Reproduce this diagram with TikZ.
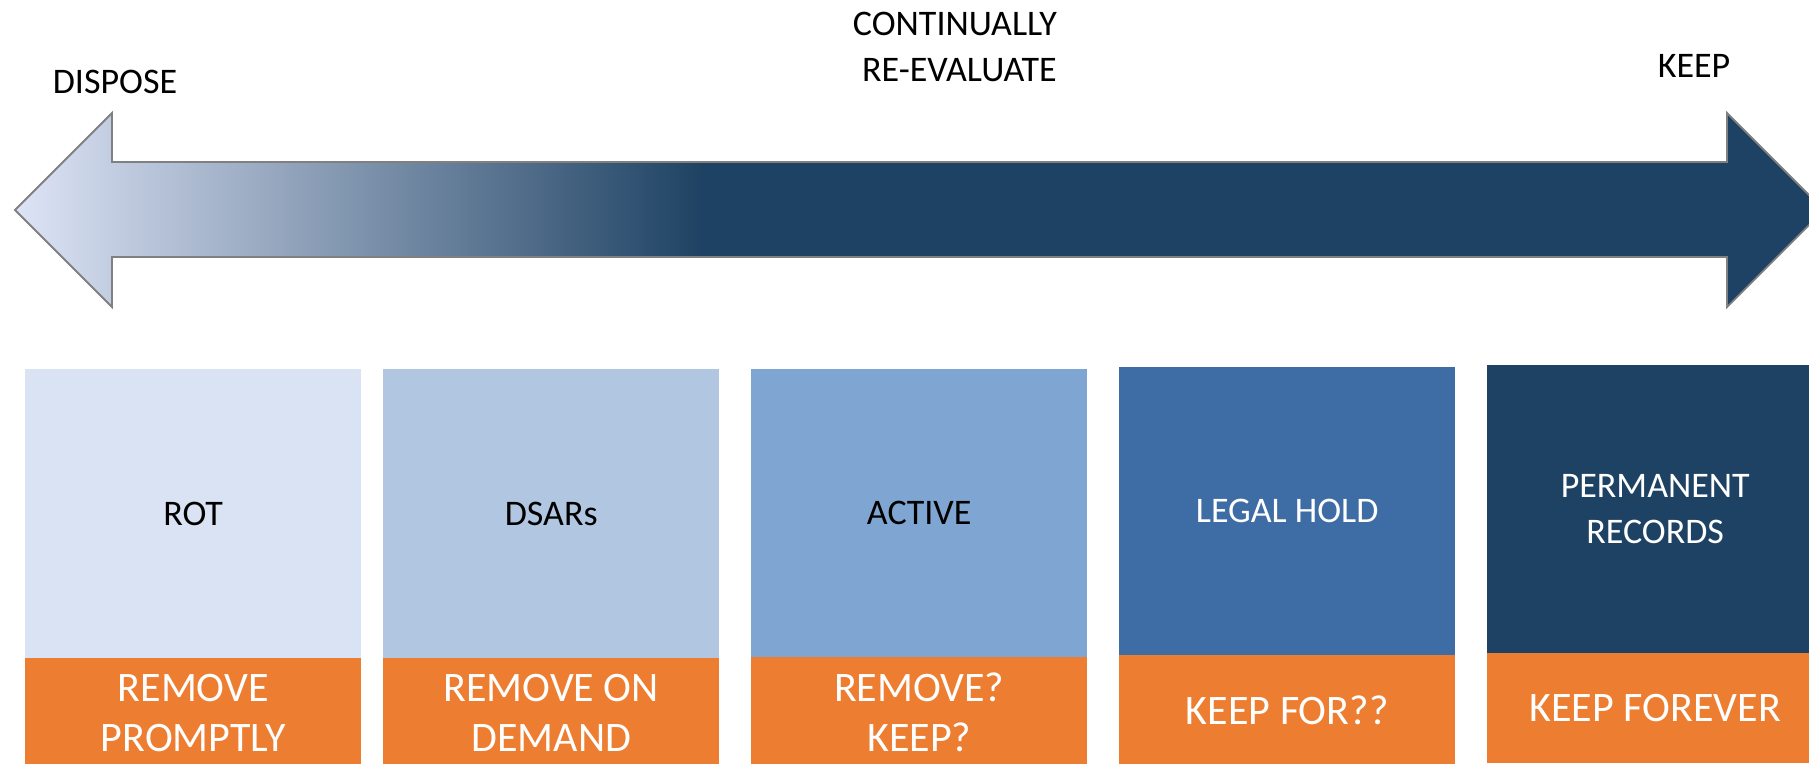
\documentclass[tikz,border=0pt]{standalone}
\usepackage{fontspec}
\setmainfont{Carlito}
\definecolor{navy}{HTML}{1E4263}
\definecolor{tiplight}{HTML}{DEE4F6}
\definecolor{outl}{HTML}{808080}
\definecolor{cA}{HTML}{DAE3F3}
\definecolor{cB}{HTML}{B0C6E1}
\definecolor{cC}{HTML}{7FA6D2}
\definecolor{cD}{HTML}{3E6DA5}
\definecolor{cE}{HTML}{1E4263}
\definecolor{orng}{HTML}{ED7D31}
\tikzset{
  x=1pt, y=-1pt,
  lbl/.style={inner sep=0pt, font=\fontsize{36}{46}\selectfont, align=center},
  upperbox/.style={anchor=north west, inner sep=0pt, minimum width=336pt,
    font=\fontsize{36}{46}\selectfont, align=center},
  lowerbox/.style={anchor=north west, inner sep=0pt, minimum width=336pt,
    minimum height=110pt, fill=orng, text=white,
    font=\fontsize{42}{50}\selectfont, align=center},
}
\begin{document}
\begin{tikzpicture}
\useasboundingbox (0,0) rectangle (1809,763);
\clip (0,0) rectangle (1809,763);
% double arrow
\def\arrowpath{(15,210) -- (112,113) -- (112,162) -- (1727,162) -- (1727,113) -- (1824,210) -- (1727,307) -- (1727,257) -- (112,257) -- (112,307) -- cycle}
\fill[navy] \arrowpath;
\begin{scope}
  \clip \arrowpath;
  \shade[left color=tiplight, right color=navy] (15,100) rectangle (704,320);
\end{scope}
\draw[outl, line width=1.8pt, line join=miter] \arrowpath;
% top labels
\node[lbl, anchor=base] (dispose) at (115,93) {DISPOSE};
\node[lbl, anchor=base] (keep) at (1694,77) {KEEP};
\node[lbl, anchor=east, align=right] (reeval) at (1057,46.5) {CONTINUALLY\\RE-EVALUATE};
% boxes
\node[upperbox, fill=cA, minimum height=289pt] (rot) at (25,369) {ROT};
\node[lowerbox] (rotact) at (25,658) {REMOVE\\PROMPTLY};
\node[upperbox, fill=cB, minimum height=289pt] (dsar) at (383,369) {DSARs};
\node[lowerbox] (dsaract) at (383,658) {REMOVE ON\\DEMAND};
\node[upperbox, fill=cC, minimum height=288pt] (active) at (751,369) {ACTIVE};
\node[lowerbox] (activeact) at (751,657) {REMOVE?\\KEEP?};
\node[upperbox, fill=cD, text=white, minimum height=288pt] (legal) at (1119,367) {LEGAL HOLD};
\node[lowerbox] (legalact) at (1119,655) {KEEP FOR??};
\node[upperbox, fill=cE, text=white, minimum height=288pt] (perm) at (1487,365) {PERMANENT\\RECORDS};
\node[lowerbox] (permact) at (1487,653) {KEEP FOREVER};
\end{tikzpicture}
\end{document}
